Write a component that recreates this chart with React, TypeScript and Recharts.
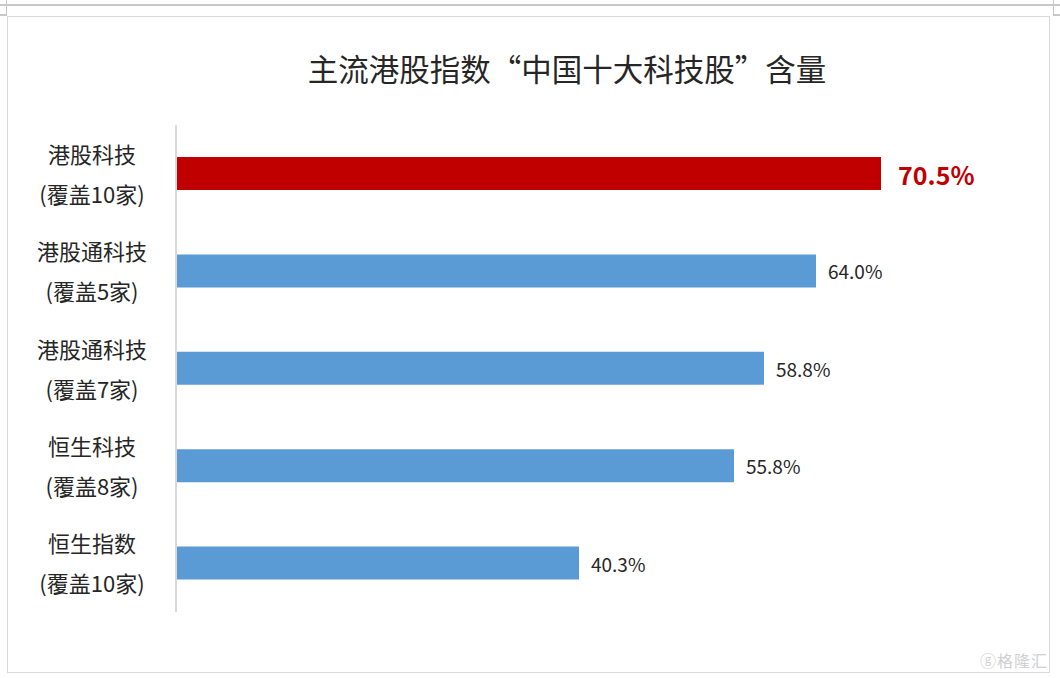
import { BarChart, Bar, XAxis, YAxis, LabelList, Cell } from 'recharts';

const indexNames = ['港股科技', '港股通科技', '港股通科技', '恒生科技', '恒生指数'];
const coverage = ['(覆盖10家)', '(覆盖5家)', '(覆盖7家)', '(覆盖8家)', '(覆盖10家)'];
const shares = [70.5, 64.0, 58.8, 55.8, 40.3];
const highlight = [true, false, false, false, false];

const FONT = '"Noto Sans CJK SC", "Noto Sans", sans-serif';
const BLUE = '#5b9bd5';
const RED = '#c00000';

const data = indexNames.map((name, i) => ({
  key: `${name}|${coverage[i]}`,
  name,
  cover: coverage[i],
  value: shares[i],
  hot: highlight[i],
}));

function CategoryTick({ x, y, payload }: any) {
  const [l1, l2] = String(payload.value).split('|');
  const cx = x - 76;
  return (
    <text x={cx} textAnchor="middle" fontFamily={FONT} fontSize={22} fill="#262626">
      <tspan x={cx} y={y - 11}>{l1}</tspan>
      <tspan x={cx} y={y + 29}>{l2}</tspan>
    </text>
  );
}

function ValueLabel({ x, y, width, height, value, index }: any) {
  const hot = data[index]?.hot;
  return (
    <text
      x={x + width + (hot ? 17 : 12)}
      y={y + height / 2}
      dominantBaseline="central"
      fontFamily={FONT}
      fontSize={hot ? 25 : 19}
      fontWeight={hot ? 700 : 400}
      fill={hot ? RED : '#262626'}
    >
      {Number(value).toFixed(1)}%
    </text>
  );
}

export default function App() {
  return (
    <div style={{ position: 'fixed', left: 0, top: 0, width: 1060, height: 678, background: '#fff', fontFamily: FONT }}>
      {/* sheet edges */}
      <div style={{ position: 'absolute', left: 0, top: 4, width: 1060, height: 2, background: '#c8c8c8' }} />
      <div style={{ position: 'absolute', left: 6, top: 0, width: 1, height: 16, background: '#c8c8c8' }} />
      <div style={{ position: 'absolute', left: 1053, top: 0, width: 1, height: 16, background: '#c8c8c8' }} />
      <div style={{ position: 'absolute', left: 0, top: 14, width: 7, height: 2, background: '#c8c8c8' }} />
      <div style={{ position: 'absolute', left: 1053, top: 14, width: 7, height: 2, background: '#c8c8c8' }} />
      {/* chart frame */}
      <div style={{ position: 'absolute', left: 7, top: 16, width: 1041, height: 655, border: '1px solid #d9d9d9' }} />

      <div
        style={{
          position: 'absolute',
          left: 0,
          top: 46,
          width: 1134,
          textAlign: 'center',
          fontSize: 30.5,
          color: '#262626',
          lineHeight: '44px',
        }}
      >
        主流港股指数“中国十大科技股”含量
      </div>

      <div style={{ position: 'absolute', left: 0, top: 0 }}>
        <BarChart
          width={1060}
          height={678}
          data={data}
          layout="vertical"
          margin={{ top: 125, right: 84, bottom: 66, left: 8 }}
        >
          <XAxis type="number" domain={[0, 80]} hide />
          <YAxis
            type="category"
            dataKey="key"
            width={168}
            axisLine={{ stroke: '#d9d9d9', strokeWidth: 2 }}
            tickLine={false}
            tick={<CategoryTick />}
            interval={0}
          />
          <Bar dataKey="value" barSize={33} isAnimationActive={false}>
            {data.map((d) => (
              <Cell key={d.key} fill={d.hot ? RED : BLUE} />
            ))}
            <LabelList dataKey="value" content={<ValueLabel />} />
          </Bar>
        </BarChart>
      </div>

      <div
        style={{
          position: 'absolute',
          right: 12,
          bottom: 6,
          fontSize: 16,
          color: '#d0d0d0',
          letterSpacing: 1,
        }}
      >
        ⓖ格隆汇
      </div>
    </div>
  );
}
